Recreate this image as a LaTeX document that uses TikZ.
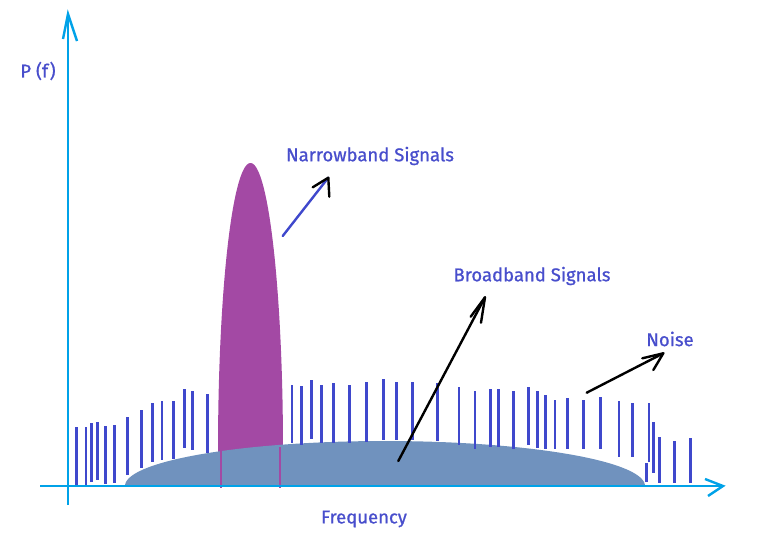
\documentclass[tikz,border=0pt]{standalone}
\usepackage{fontspec}
\setmainfont{Fira Sans}
\newfontfamily\lblfont{Fira Sans}[FakeBold=0.9]
\definecolor{axisc}{RGB}{0,162,232}
\definecolor{barc}{RGB}{63,72,204}
\definecolor{nbc}{RGB}{163,73,164}
\definecolor{bbc}{RGB}{112,146,190}
\definecolor{txtc}{RGB}{72,78,204}
\tikzset{
  axisline/.style={draw=axisc,line width=2.6pt,line cap=butt},
  axishead/.style={draw=axisc,line width=2.4pt,line join=miter},
  bar/.style={draw=barc,line width=2.8pt},
  pointer/.style={draw=black,line width=2.4pt,line cap=round},
  head/.style={draw=black,line width=2.4pt,line cap=round,line join=round},
  lbl/.style={text=txtc,font=\lblfont\fontsize{18.5}{20}\selectfont,inner sep=0pt}
}
\begin{document}
\begin{tikzpicture}[x=1pt,y=-1pt]
\useasboundingbox (0,0) rectangle (768,541);
% purple narrowband lobe
\fill[nbc] (218,486) -- plot[domain=180:0,samples=90] ({250.5+32.5*cos(\x)},{450-287*sin(\x)}) -- (283,486) -- cycle;
% broadband
\fill[bbc] plot[domain=180:0,samples=120] ({385+260*cos(\x)},{486-45*sin(\x)}) -- cycle;
\draw[nbc,line width=2pt] (220.7,488) -- (220.7,451);
\draw[nbc,line width=2pt] (280,488) -- (280,447);
% noise bars
\foreach \a/\t/\b in {76.7/427/485,86/427/485,91.7/423/482,97.7/422/480,105.3/426/484,114.3/425/483,
  127.3/417/475,141.7/410/468,152.3/403/462,162/401/460,173.7/401/459,184.3/389/448,192.7/391/450,207.7/394/453,
  292/385/443,301.3/386/445,311.7/380/439,321.7/385/443,333.3/383/443,349.3/385/443,366.3/382/442,383.3/379/440,
  396.3/382/440,412.7/382/440,437.3/383/441,459/387/445,475/391/449,490.3/389/447,498.3/389/447,513.3/391/449,
  528.3/387/445,537.7/391/448,545.3/395/449,555/400/449,567.3/398/449,583.3/400/449,600.3/397/449,619/401/457,
  632.3/403/457,649/403/462,653.3/422/473,646.7/463/482,659.3/437/483,674.7/441/483,690.3/438/483}
  {\draw[bar] (\a,\t) -- (\a,\b);}
% axes
\coordinate (xs) at (40,486);
\coordinate (xe) at (723,486);
\coordinate (ys) at (68,505);
\coordinate (ye) at (68,14);
\draw[axisline] (xs) -- (xe);
\draw[axisline] (ys) -- (ye);
\draw[axishead] (705,479) -- (xe) -- (708,496);
\draw[axishead] (63,39) -- (ye) -- (77,41);
% labels
\node[lbl] (pf) at (38,71) {P (f)};
\node[lbl] (freq) at (364,519) {Frequency};
\node[lbl] (nb) at (370,156) {Narrowband Signals};
\node[lbl] (bb) at (532,276) {Broadband Signals};
\node[lbl] (noise) at (670,339) {Noise};
% pointers
\coordinate (nbs) at (282.7,236);
\coordinate (nbt) at (328.3,177.7);
\draw[draw=barc,line width=2.4pt,line cap=round] (nbs) -- (nbt);
\draw[head] (312.7,187.3) -- (nbt) -- (329.3,196.7);
\coordinate (bbs) at (398.3,461);
\coordinate (bbt) at (485,297.3);
\draw[pointer] (bbs) -- (bbt);
\draw[head] (470.7,316.7) -- (bbt) -- (481,322.7);
\coordinate (ns) at (586.7,392.7);
\coordinate (nt) at (663.3,353.3);
\draw[pointer] (ns) -- (nt);
\draw[head] (642.3,358.3) -- (nt) -- (653.3,370);
\end{tikzpicture}
\end{document}
